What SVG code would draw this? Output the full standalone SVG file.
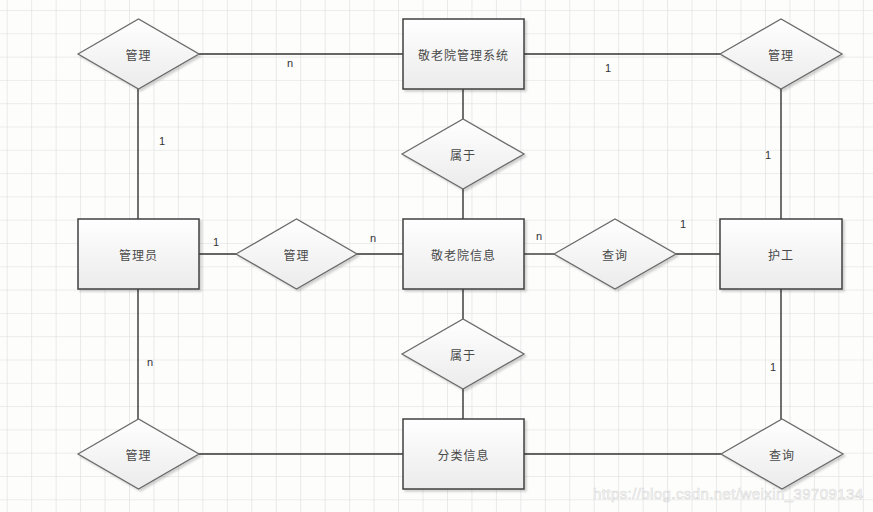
<svg xmlns="http://www.w3.org/2000/svg" width="873" height="512" viewBox="0 0 873 512">
<defs>
<pattern id="grid" x="6.7" y="10" width="24.46" height="23.3" patternUnits="userSpaceOnUse">
<path d="M0 0V23.3M0 0H24.46" fill="none" stroke="#dcdcdc" stroke-width="1.2"/>
</pattern>
<linearGradient id="fillg" x1="0" y1="0" x2="0" y2="1">
<stop offset="0" stop-color="#ffffff"/>
<stop offset="1" stop-color="#ebebeb"/>
</linearGradient>
<filter id="sh" x="-10%" y="-10%" width="130%" height="130%">
<feDropShadow dx="2" dy="2" stdDeviation="1.2" flood-color="#000" flood-opacity="0.18"/>
</filter>
</defs>
<style>
.ent{fill:url(#fillg);stroke:#404040;stroke-width:1.5;filter:url(#sh)}
.rel{fill:url(#fillg);stroke:#6a6a6a;stroke-width:1.3;filter:url(#sh)}
.lbl{font-family:"Noto Sans CJK SC","Liberation Sans",sans-serif;font-size:12px;fill:#4a4a4a;text-anchor:middle;dominant-baseline:central;letter-spacing:1px}
.card{font-family:"Liberation Sans","DejaVu Sans",sans-serif;font-size:11px;fill:#333;text-anchor:middle}
.ln{stroke:#333;stroke-width:1.4;fill:none}
</style>
<rect width="873" height="512" fill="#fdfdfc"/>
<rect width="873" height="512" fill="url(#grid)"/>
<g id="connectors">
<path class="ln" d="M199 54H403"/>
<path class="ln" d="M138 89V219"/>
<path class="ln" d="M524 54H720"/>
<path class="ln" d="M781 89V219"/>
<path class="ln" d="M463 89V119"/>
<path class="ln" d="M463 189V219"/>
<path class="ln" d="M199 254H236"/>
<path class="ln" d="M357 254H403"/>
<path class="ln" d="M524 254H554"/>
<path class="ln" d="M676 254H720"/>
<path class="ln" d="M463 289V319"/>
<path class="ln" d="M463 389V419"/>
<path class="ln" d="M138 289V419"/>
<path class="ln" d="M199 454H403"/>
<path class="ln" d="M524 454H721"/>
<path class="ln" d="M781 289V419"/>
<text class="card" x="290" y="67">n</text>
<text class="card" x="162" y="145">1</text>
<text class="card" x="608" y="72">1</text>
<text class="card" x="768" y="159">1</text>
<text class="card" x="216" y="246">1</text>
<text class="card" x="373" y="242">n</text>
<text class="card" x="539" y="240">n</text>
<text class="card" x="683" y="228">1</text>
<text class="card" x="150" y="366">n</text>
<text class="card" x="773" y="371">1</text>
</g>
<g id="node-system"><rect class="ent" x="403" y="19" width="121" height="70"/><text class="lbl" x="463.5" y="54">敬老院管理系统</text></g>
<g id="node-manage-tl"><polygon class="rel" points="78,54 138.5,19 199,54 138.5,89"/><text class="lbl" x="138.5" y="54">管理</text></g>
<g id="node-manage-tr"><polygon class="rel" points="720,54 781,19 842,54 781,89"/><text class="lbl" x="781" y="54">管理</text></g>
<g id="node-belong-1"><polygon class="rel" points="402,154 463,119 524,154 463,189"/><text class="lbl" x="463" y="154">属于</text></g>
<g id="node-admin"><rect class="ent" x="78" y="219" width="121" height="70"/><text class="lbl" x="138.5" y="254">管理员</text></g>
<g id="node-manage-mid"><polygon class="rel" points="236,254 296.5,219 357,254 296.5,289"/><text class="lbl" x="296.5" y="254">管理</text></g>
<g id="node-info"><rect class="ent" x="403" y="219" width="121" height="70"/><text class="lbl" x="463.5" y="254">敬老院信息</text></g>
<g id="node-query-mid"><polygon class="rel" points="554,254 615,219 676,254 615,289"/><text class="lbl" x="615" y="254">查询</text></g>
<g id="node-nurse"><rect class="ent" x="720" y="219" width="122" height="70"/><text class="lbl" x="781" y="254">护工</text></g>
<g id="node-belong-2"><polygon class="rel" points="402,354 463,319 524,354 463,389"/><text class="lbl" x="463" y="354">属于</text></g>
<g id="node-manage-bl"><polygon class="rel" points="78,454 138.5,419 199,454 138.5,489"/><text class="lbl" x="138.5" y="454">管理</text></g>
<g id="node-category"><rect class="ent" x="403" y="419" width="121" height="70"/><text class="lbl" x="463.5" y="454">分类信息</text></g>
<g id="node-query-br"><polygon class="rel" points="721,454 782,419 843,454 782,489"/><text class="lbl" x="782" y="454">查询</text></g>
<text x="593" y="499" textLength="270" font-family="Liberation Sans, sans-serif" font-size="15" fill="#ffffff" fill-opacity="0.85" stroke="#c8c8c8" stroke-width="0.6" stroke-opacity="0.7">https://blog.csdn.net/weixin_39709134</text>
</svg>
